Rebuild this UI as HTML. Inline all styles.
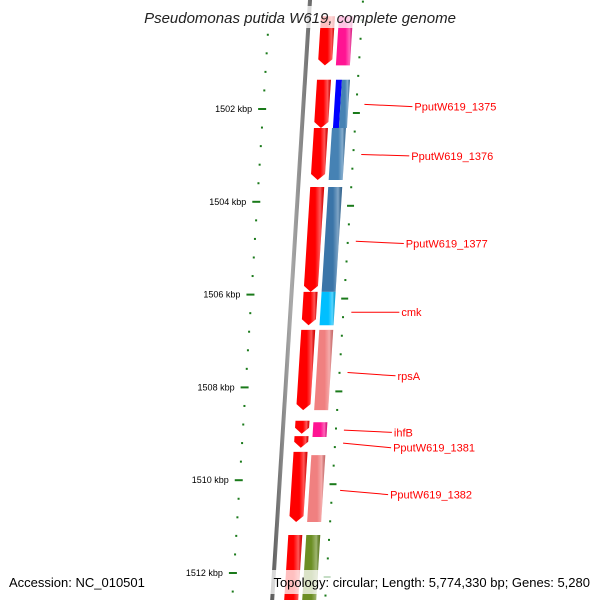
<!DOCTYPE html>
<html><head><meta charset="utf-8"><style>
html,body{margin:0;padding:0;background:#fff;width:600px;height:600px;overflow:hidden}
svg{display:block}
</style></head><body>
<svg id="chart" width="600" height="600" xmlns="http://www.w3.org/2000/svg" font-family="Liberation Sans, sans-serif">
<defs>
<linearGradient id="shade" x1="0" x2="1" y1="0" y2="0">
<stop offset="0" stop-color="#fff" stop-opacity="0.0"/>
<stop offset="0.55" stop-color="#fff" stop-opacity="0.0"/>
<stop offset="0.8" stop-color="#fff" stop-opacity="0.35"/>
<stop offset="1" stop-color="#000" stop-opacity="0.15"/>
</linearGradient>
<linearGradient id="bb" x1="0" x2="1"><stop offset="0" stop-color="#555"/><stop offset="0.5" stop-color="#aaa"/><stop offset="1" stop-color="#666"/></linearGradient>
</defs>
<g id="ticks"></g>
<g id="backbone"></g>
<g id="genes"></g>
<g id="labels"></g>
<rect x="137" y="6" width="327" height="22" fill="#fff" opacity="0.75"/>
<text x="300" y="23" text-anchor="middle" font-size="15" font-style="italic" fill="#222">Pseudomonas putida W619, complete genome</text>
<rect x="5" y="570" width="150" height="24" fill="#fff" opacity="0.75"/>
<text x="9" y="587" font-size="13" fill="#000">Accession: NC_010501</text>
<rect x="257" y="570" width="338" height="24" fill="#fff" opacity="0.75"/>
<text x="590" y="587" text-anchor="end" font-size="13" fill="#000">Topology: circular; Length: 5,774,330 bp; Genes: 5,280</text>
</svg>
<script>
// data (kbp)
const fwdStarts = [1500.0, 1501.37, 1502.41, 1503.68, 1505.94, 1506.76, 1508.72, 1509.05, 1509.39, 1511.18];
const fwdEnds   = [1501.06, 1502.41, 1503.53, 1505.94, 1506.66, 1508.49, 1509.0, 1509.3, 1510.9, 1513.2];
const revStarts = [1500.0, 1501.37, 1501.37, 1502.41, 1503.68, 1505.94, 1506.76, 1508.75, 1509.46, 1511.18];
const revEnds   = [1501.06, 1502.41, 1502.41, 1503.53, 1505.94, 1506.66, 1508.49, 1509.07, 1510.9, 1513.2];
const revColors = ['#ff1493','#0000ff','#4682b4','#4682b4','#3b75a8','#00bfff','#f08080','#ff1493','#f08080','#6b8e23'];
const revHalf   = [0,1,2,0,0,0,0,0,0,0];
const labelNames = ['PputW619_1375','PputW619_1376','PputW619_1377','cmk','rpsA','ihfB','PputW619_1381','PputW619_1382'];
const labelGeneKbp = [1501.9, 1502.98, 1504.85, 1506.38, 1507.68, 1508.92, 1509.2, 1510.22];
const labelKbp = [1501.95, 1503.01, 1504.9, 1506.38, 1507.75, 1508.97, 1509.3, 1510.31];
const tickMajors = [1502, 1504, 1506, 1508, 1510, 1512];

const NS='http://www.w3.org/2000/svg';
const Y0 = 109, PX = 46.4;
function yOf(k){ return Y0 + (k - 1502) * PX; }
function bx(y){ return 310 - 0.063 * y; }
function pt(k, off, dy){ const y = yOf(k) + (dy||0); return [bx(y) + off, y]; }
function mk(tag, attrs, parent){ const e=document.createElementNS(NS,tag); for(const a in attrs) e.setAttribute(a,attrs[a]); parent.appendChild(e); return e; }
const gT=document.getElementById('ticks'), gB=document.getElementById('backbone'), gG=document.getElementById('genes'), gL=document.getElementById('labels');

const bbl = mk('polygon',{points:[[bx(-10)-2,-10],[bx(-10)+2,-10],[bx(610)+2,610],[bx(610)-2,610]].map(p=>p.join(',')).join(' '),fill:'url(#bb)'},gB);



for(let k=1499.6;k<=1513.2;k+=0.4){
  const kk=Math.round(k*10)/10;
  const major = tickMajors.some(m=>Math.abs(m-kk)<0.01);
  const y=yOf(kk);
  const l=mk('line',{x1:bx(y)-(major?45:41),y1:y,x2:bx(y)-(major?37:39),y2:y,stroke:'#1a7a1a','stroke-width':2},gT);
  
  
  const yr=y+4;
  const r=mk('line',{x1:bx(yr)+(major?50:52),y1:yr,x2:bx(yr)+(major?57:54),y2:yr,stroke:'#1a7a1a','stroke-width':2},gT);
  
  
  if(major){
    const t=mk('text',{x:bx(y)-51,y:y+3,'text-anchor':'end','font-size':9,fill:'#000'},gT);
    t.textContent=kk+' kbp';
    
    
  }
}

for(let i=0;i<fwdStarts.length;i++){
  const a=fwdStarts[i], b=fwdEnds[i];
  const tip=6;
  const p=[pt(a,12),pt(a,26),pt(b,26,-tip),pt(b,19),pt(b,12,-tip)];
  const s=p.map(q=>q.join(',')).join(' ');
  const g=mk('polygon',{points:s,fill:'#ff0000'},gG);
  
  
  mk('polygon',{points:s,fill:'url(#shade)'},gG);
}
for(let i=0;i<revStarts.length;i++){
  const a=revStarts[i], b=revEnds[i];
  let o1=30,o2=44;
  if(revHalf[i]===1){o1=31;o2=37;} else if(revHalf[i]===2){o1=37;o2=45;}
  const s=[pt(a,o1),pt(a,o2),pt(b,o2),pt(b,o1)].map(q=>q.join(',')).join(' ');
  const g=mk('polygon',{points:s,fill:revColors[i]},gG);
  
  
  if(revHalf[i]!==1) mk('polygon',{points:s,fill:'url(#shade)'},gG);
}
for(let i=0;i<labelNames.length;i++){
  const y1=yOf(labelGeneKbp[i]), y2=yOf(labelKbp[i]);
  const x1=bx(y1)+61, x2=x1+48;
  const l=mk('line',{x1:x1,y1:y1,x2:x2,y2:y2,stroke:'#ff0000','stroke-width':1},gL);
  
  
  const t=mk('text',{x:x2+2,y:y2+4,'font-size':11,fill:'#ff0000'},gL);
  t.textContent=labelNames[i];
  
  
}
</script>
</body></html>
